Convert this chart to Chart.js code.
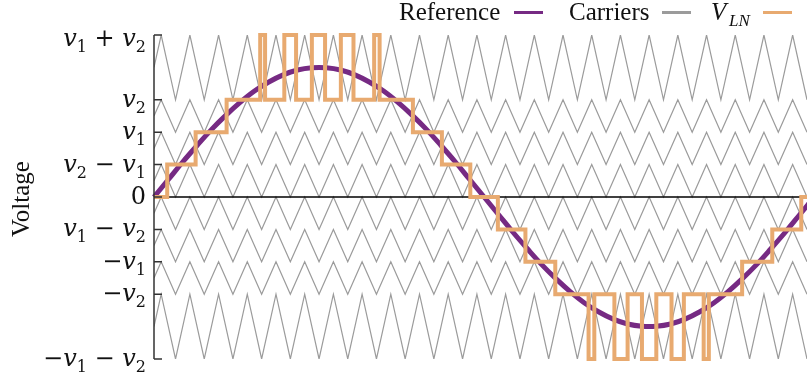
<!DOCTYPE html>
<html><head><meta charset="utf-8">
<script src="https://cdn.jsdelivr.net/npm/chart.js@4.4.1/dist/chart.umd.min.js"></script>
<style>html,body{margin:0;padding:0;background:#fff;overflow:hidden}
#wrap{position:relative;width:807px;height:381px}</style>
</head><body><div id="wrap"><canvas id="c" width="807" height="381"></canvas></div>
<script>
// ---- data (x in carrier periods, y in units of (v2 - v1)) ----
const yTickValues = [5, 3, 2, 1, 0, -1, -2, -3, -5];
const yTickLabels = ['v_1 + v_2', 'v_2', 'v_1', 'v_2 \u2212 v_1', '0', 'v_1 \u2212 v_2', '\u2212v_1', '\u2212v_2', '\u2212v_1 \u2212 v_2'];

const refTimes = [0,0.5,1,1.5,2,2.5,3,3.5,4,4.5,5,5.5,6,6.5,7,7.5,8,8.5,9,9.5,10,10.5,11,11.5,12,12.5,13,13.5,14,14.5,15,15.5,16,16.5,17,17.5,18,18.5,19,19.5,20,20.5,21,21.5,22,22.5,23];
const refValues = [0,0.54,1.08,1.59,2.08,2.52,2.92,3.27,3.55,3.77,3.92,3.99,3.99,3.92,3.77,3.55,3.27,2.92,2.52,2.08,1.59,1.08,0.54,0,
  -0.54,-1.08,-1.59,-2.08,-2.52,-2.92,-3.27,-3.55,-3.77,-3.92,-3.99,-3.99,-3.92,-3.77,-3.55,-3.27,-2.92,-2.52,-2.08,-1.59,-1.08,-0.54,0];

const carrierLow  = [3, 2, 1, 0, -1, -2, -3, -5];
const carrierHigh = [5, 3, 2, 1, 0, -1, -2, -3];
const carrierTimes = [0,0.25,0.75,1.25,1.75,2.25,2.75,3.25,3.75,4.25,4.75,5.25,5.75,6.25,6.75,7.25,7.75,8.25,8.75,9.25,9.75,10.25,10.75,11.25,11.75,12.25,12.75,13.25,13.75,14.25,14.75,15.25,15.75,16.25,16.75,17.25,17.75,18.25,18.75,19.25,19.75,20.25,20.75,21.25,21.75,22.25,22.75,23];
const carrierShape = [0.5,1,0,1,0,1,0,1,0,1,0,1,0,1,0,1,0,1,0,1,0,1,0,1,0,1,0,1,0,1,0,1,0,1,0,1,0,1,0,1,0,1,0,1,0,1,0,0.5];

const vlnTimes  = [0,0.46,1.45,2.53,3.70,3.87,4.54,4.95,5.50,5.96,6.51,6.95,7.67,7.86,9.02,10.03,11.02,11.98,12.94,13.98,15.14,15.34,16.04,16.50,17.00,17.50,18.03,18.46,19.15,19.33,20.49,21.54,22.55,23];
const vlnLevels = [0,1,2,3,5,3,5,3,5,3,5,3,5,3,2,1,0,-1,-2,-3,-5,-3,-5,-3,-5,-3,-5,-3,-5,-3,-2,-1,0,0];

const zeroLine = [0, 0];
const zeroTimes = [0, 23];

// ---- styles ----
const PURPLE = 'rgb(118,42,131)';
const ORANGE = 'rgb(232,170,112)';
const GRAY = 'rgb(155,155,155)';
const SERIF = '"DejaVu Serif", "Liberation Serif", serif';
const TIMES = '"Liberation Serif", "DejaVu Serif", serif';

const pts = (xs, ys) => xs.map((x, i) => ({x, y: ys[i]}));

const datasets = [
  {label: 'V_LN', data: pts(vlnTimes, vlnLevels), borderColor: ORANGE, borderWidth: 4, stepped: 'before', pointRadius: 0, fill: false, clip: false, borderJoinStyle: 'miter'},
  {label: 'Reference', data: pts(refTimes, refValues), borderColor: PURPLE, borderWidth: 5, tension: 0.4, pointRadius: 0, fill: false, clip: false},
  {label: 'zero', data: pts(zeroTimes, zeroLine), borderColor: '#000', borderWidth: 1.5, pointRadius: 0, fill: false}
];
carrierLow.forEach((lo, b) => {
  const hi = carrierHigh[b];
  datasets.push({label: 'Carriers', data: carrierTimes.map((t, i) => ({x: t, y: lo + carrierShape[i] * (hi - lo)})),
    borderColor: GRAY, borderWidth: 1.2, pointRadius: 0, fill: false, tension: 0});
});

function drawMath(ctx, str, xRight, baseline, size) {
  const main = 'italic ' + size + 'px ' + SERIF;
  const up = size + 'px ' + SERIF;
  const sub = Math.round(size * 0.68) + 'px ' + SERIF;
  const toks = str.match(/v_\d|[^v]+|v/g);
  const parts = [];
  toks.forEach(t => {
    if (t.startsWith('v_')) { parts.push({t: 'v', f: main, dy: 0}); parts.push({t: t.slice(2), f: sub, dy: size * 0.25}); }
    else if (t === 'v') parts.push({t: 'v', f: main, dy: 0});
    else parts.push({t, f: up, dy: 0});
  });
  let w = 0;
  parts.forEach(p => { ctx.font = p.f; p.w = ctx.measureText(p.t).width; w += p.w; });
  let x = xRight - w;
  parts.forEach(p => { ctx.font = p.f; ctx.fillText(p.t, x, baseline + p.dy); x += p.w; });
}

const decor = {
  id: 'decor',
  afterDraw(chart) {
    const ctx = chart.ctx, ys = chart.scales.y, area = chart.chartArea;
    ctx.save();
    // spine + inward ticks
    ctx.strokeStyle = '#333'; ctx.lineWidth = 1.5;
    ctx.beginPath();
    ctx.moveTo(area.left, ys.getPixelForValue(5)); ctx.lineTo(area.left, ys.getPixelForValue(-5));
    yTickValues.forEach(v => { const y = ys.getPixelForValue(v); ctx.moveTo(area.left, y); ctx.lineTo(area.left + 8, y); });
    ctx.stroke();
    // tick labels
    ctx.fillStyle = '#111'; ctx.textBaseline = 'alphabetic'; ctx.textAlign = 'left';
    yTickValues.forEach((v, i) => {
      const y = ys.getPixelForValue(v);
      drawMath(ctx, yTickLabels[i], area.left - 8, y + 7 + (i === 0 ? 4 : 0), 24);
    });
    // axis title
    ctx.save();
    ctx.translate(29, (area.top + area.bottom) / 2 + 2);
    ctx.rotate(-Math.PI / 2);
    ctx.font = '25px ' + TIMES; ctx.textAlign = 'center'; ctx.fillStyle = '#111';
    ctx.fillText('Voltage', 0, 0);
    ctx.restore();
    // legend
    ctx.font = '25px ' + TIMES; ctx.fillStyle = '#111'; ctx.textAlign = 'left';
    ctx.fillText('Reference', 399, 20);
    ctx.fillText('Carriers', 569, 20);
    ctx.font = 'italic 25px ' + TIMES; ctx.fillText('V', 711, 20);
    ctx.font = 'italic 17px ' + TIMES; ctx.fillText('LN', 729, 26);
    ctx.lineWidth = 3;
    [[PURPLE, 514], [GRAY, 662], [ORANGE, 763]].forEach(([c, x]) => {
      ctx.strokeStyle = c; ctx.beginPath(); ctx.moveTo(x, 12.5); ctx.lineTo(x + 29, 12.5); ctx.stroke();
    });
    ctx.restore();
  }
};

new Chart(document.getElementById('c'), {
  type: 'line',
  data: {datasets},
  options: {
    responsive: false, animation: false, devicePixelRatio: 1,
    layout: {padding: {left: 154, top: 35, right: 0, bottom: 22}},
    plugins: {legend: {display: false}, tooltip: {enabled: false}},
    scales: {
      x: {type: 'linear', min: 0, max: 22.75, display: false},
      y: {type: 'linear', min: -5, max: 5, display: false}
    }
  },
  plugins: [decor]
});
</script></body></html>
